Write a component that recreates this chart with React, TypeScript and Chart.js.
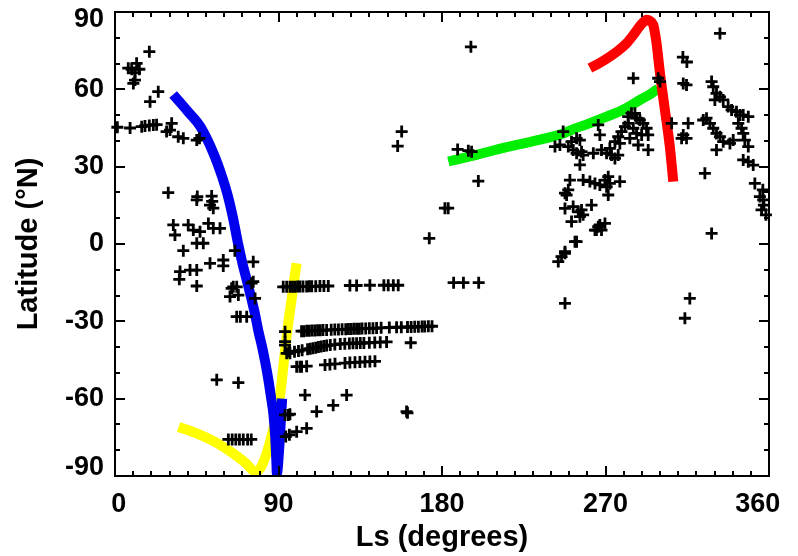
import React, { useEffect, useRef } from "react";
import { Chart, registerables } from "chart.js";

Chart.register(...registerables);

// ---------- axis definitions ----------
const xMin = 0;
const xMax = 360;
const xStep = 90;
const xMinorStep = 10;
const yMin = -90;
const yMax = 90;
const yStep = 30;
const yMinorStep = 10;
const xTitle = "Ls (degrees)";
const yTitle = "Latitude (°N)";

// ---------- observations [Ls, latitude] ----------
const obsNorthEarly: number[][] = [
  [18.9, 74.6], [7.3, 68.2], [9.2, 67.8], [11.9, 70.1], [13.4, 67.8], [11, 66.5], [10.1, 62.3], [11, 63.6],
  [23.8, 59.1], [19.3, 55.2], [1.3, 45.3], [8.3, 45], [14.7, 45.5], [16.5, 45.8], [18.9, 46], [21.1, 46.2],
  [22.9, 46.3], [31.2, 46.8], [30.3, 44.2], [28.4, 43.6], [34.8, 41.6], [37.6, 41], [45, 40.3], [46.5, 41],
];

const obsTropicsEarly: number[][] = [
  [29.3, 19.9], [45.3, 18.4], [53.2, 18.6], [45, 17.1], [52.3, 15.1], [54.1, 13.9], [53.5, 16.5],
  [32.1, 7.4], [33, 3.5], [40.3, 7.4], [43.1, 5.4], [46.8, 4.8], [51.4, 8], [54.1, 6.1], [57.8, 6.1],
  [45, 0.3], [48.6, 0.3], [37.6, -2.6], [52.3, -7.5], [59.6, -6.2], [59.6, -8.5], [66, -2.6], [76.1, -6.9],
  [35.8, -10.7], [35.4, -13.7], [41.3, -10.1], [45, -10.1], [45, -16.3],
  [64.2, -17.2], [67, -16.6], [63.3, -20.4], [67.9, -19.8], [76.1, -14.6], [77.1, -21.1], [65.1, -16.6], [75.2, -15.2],
  [67, -28.2], [72.5, -28.2], [69, -28.2], [56, -52.7], [67.9, -53.8],
  [62.4, -75.8], [64.5, -75.8], [66.5, -75.8], [68.5, -75.8], [70.6, -75.8], [73, -75.8], [75, -75.8],
];

const obsSouthWinter: number[][] = [
  [93.6, -66.3], [95.4, -66.3], [96.3, -66], [94, -74.7], [96, -74], [100, -72.8], [105.5, -71.5], [111, -65],
  [120.1, -62.6], [104.6, -58.6], [127.5, -58.6], [160.5, -65], [161, -65.5],
  [93.6, -34], [93.6, -39.2], [96.3, -42.4], [101.8, -47.6],
];

const obsRow16: number[][] = [
  [92.6, -16.6], [94.5, -16.6], [96.3, -16.6], [97.7, -16.6], [99.1, -16.6], [100.5, -16.5], [101.8, -16.5],
  [103.5, -16.5], [105.5, -16.5], [107, -16.4], [108.3, -16.4], [110.5, -16.4], [112.8, -16.3], [115, -16.3],
  [117.4, -16.3], [129.3, -16.1], [133, -16.1], [140.3, -16], [148, -16], [150.4, -16], [153.2, -16], [155.9, -16],
  [186.4, -15], [191.8, -15], [200.2, -15],
];

const obsRow33: number[][] = [
  [102.7, -33.8], [104, -33.8], [105.5, -33.7], [107, -33.7], [108.5, -33.6], [110, -33.6], [111.5, -33.5],
  [113, -33.5], [114.5, -33.4], [116.5, -33.4], [119, -33.3], [121, -33.2], [123, -33.2], [125, -33.1],
  [127, -33.1], [128.5, -33], [130, -33], [131.5, -32.9], [133, -32.9], [134.5, -32.9], [136, -32.8],
  [138, -32.8], [140, -32.7], [142, -32.7], [144, -32.6], [146.5, -32.5], [151, -32.4], [155, -32.3],
  [157.6, -32.3], [161, -32.2], [163, -32.2], [165, -32.1], [167, -32.1], [169, -32], [170.5, -32],
  [172.5, -31.9], [174.5, -31.9],
];

const obsRow40: number[][] = [
  [93.6, -37.9], [94.5, -42.4], [96, -41.7], [98.8, -41.8], [101, -41.5], [103, -41.2], [106, -40.8],
  [107.5, -40.6], [109, -40.4], [110.5, -40.2], [112, -40], [113.5, -39.8], [115, -39.6], [116.5, -39.4],
  [118.5, -39.2], [121, -39], [124, -38.8], [126.5, -38.7], [129, -38.6], [131, -38.5], [133, -38.5],
  [135, -38.4], [137, -38.4], [140, -38.3], [143, -38.2], [146, -38.1], [149.5, -38], [162.8, -38.3],
];

const obsRow46: number[][] = [
  [100, -47.6], [102.7, -47.6], [105.5, -47.4], [115.6, -46.9], [118.3, -46.7], [121.1, -46.5],
  [126.6, -46.2], [129.3, -46], [132.1, -45.9], [134.8, -45.8], [137.6, -45.7], [140.3, -45.6], [143.1, -45.5],
];

const obsMidYear: number[][] = [
  [173, 2.2], [181.6, 13.9], [183.4, 13.9], [200, 24.4], [188.6, 36.7], [194.5, 36.2], [196.3, 35.8],
  [157.8, 43.6], [155.6, 38], [195.9, 76.5],
];

const obsNorthLate: number[][] = [
  [285.3, 64.3], [299, 64.3], [300, 63], [312.8, 62.3], [314.6, 61.7], [333, 81.7], [312.6, 72.5], [314.8, 70.6],
  [328.4, 63], [329.3, 61], [331.1, 58.4], [330.2, 55.9], [333, 57.1], [334.8, 55.9], [337.5, 53.3], [339.4, 52],
  [342.1, 51.3], [344, 50], [345.8, 50], [348.6, 49.4], [325.6, 48.8], [323.8, 48.1], [327.5, 46.8], [329.3, 44.9],
  [331.1, 42.9], [333, 41.6], [334.8, 39.7], [338.5, 39], [340.3, 40.3], [331.1, 36.5], [343.1, 46.8], [344.9, 44.9],
  [345.8, 42.9], [346.7, 40.3], [348.6, 37.8], [345.8, 32.6], [348.6, 31.9], [351.3, 30.6], [324.7, 27.4],
  [352.2, 23.5], [355, 18.4], [356.8, 17.1], [355.9, 13.2], [328.4, 4.1], [306.4, 46.8], [315.5, 46.8],
  [312.8, 42.3], [314.6, 41], [311.9, 41], [316.4, -21.1], [313.7, -28.8], [356.6, 21], [357.2, 15.1], [358.3, 11.3],
];

const obsLateSummer: number[][] = [
  [247.7, -23], [244, -6.8], [245.8, -4.9], [247.7, -3.6], [254.1, 0.9], [265, 5.4], [267.8, 5.4],
  [246.7, 43.6], [242.2, 37.8], [244.9, 38.4], [249.5, 37.8], [252.2, 36.5], [251.3, 39.7], [254.1, 41],
  [255.9, 40.3], [256.8, 35.8], [254.1, 35.2], [257.7, 34.5], [255.9, 30.7], [266, 46.2], [266.9, 42.3],
  [263.3, 35.2], [267.8, 36.5], [270.6, 35.2], [273.3, 34.5], [275.2, 33.2], [277, 34.5], [272.4, 37.1],
  [275.2, 39.7], [277, 41.6], [278.8, 43.6], [280.7, 45.5], [282.5, 46.8], [282.5, 49.4], [284.3, 50.7],
  [286.2, 50.7], [287.1, 48.8], [288.9, 48.1], [290.8, 46.8], [292.6, 44.9], [293.5, 42.3], [289.9, 42.3],
  [285.3, 44.9], [287.1, 42.9], [283.4, 41], [277.9, 39], [288, 38.4], [293.5, 36.5],
  [250.4, 24.8], [257.7, 24.8], [261.4, 24.2], [264.2, 23.5], [266.9, 22.9], [269.7, 24.8], [271.5, 26.1],
  [272.4, 23.5], [277.9, 24.2], [270.6, 22.2], [249.5, 21], [248.6, 19], [247.7, 19.7], [271.5, 19],
  [247.7, 13.8], [252.2, 14.5], [256.8, 13.2], [257.7, 11.3], [262.3, 15.1], [255.9, 10.6], [251.3, 8.7],
  [255, 12.5], [264.2, 5.4], [266.9, 7.4], [269.7, 8], [266, 6.7], [253.2, 0.9], [247.7, -3],
];

// ---------- model curves ----------
const blueLs = [32, 40, 47, 54, 59, 62, 65, 67.5, 70, 72.5, 75, 77, 79, 81, 83, 84.5, 86, 87.2, 88.2, 88.8, 89.1, 90.5, 91.5, 92];
const blueLat = [58, 51.5, 45.5, 35.5, 26, 19, 10, 1, -7, -14, -21, -27, -34, -40, -47, -53, -60, -66, -75, -84, -89, -78, -66, -60];

const yellowLs = [35, 45, 55, 65, 72, 77, 80, 84, 88, 91, 93.5, 95.5, 97.5, 99, 100];
const yellowLat = [-71, -73.5, -76.8, -81.2, -85, -88.2, -87, -80, -69, -58, -42, -30, -20, -12, -7.5];

const greenLs = [183.5, 200, 215, 234, 247, 252, 260, 270.6, 280, 289, 295, 299];
const greenLat = [32, 34.8, 37.5, 40.5, 43, 44.5, 46.5, 49.4, 52.2, 55.9, 58.3, 60.3];

const redLs = [261.4, 267, 272.4, 277, 281.6, 285, 288, 290.5, 292.6, 294.5, 296.3, 297.3, 298.1, 300, 302.7, 305.4, 307.3];
const redLat = [68.2, 70.3, 72.7, 75, 77.9, 80.8, 83.7, 85.8, 87, 86.5, 85, 81.5, 77.9, 66.2, 52, 37.8, 24.2];

const FONT = "'Liberation Sans', Arial, Helvetica, sans-serif";

const toXY = (ls: number[], lat: number[]) => ls.map((v, i) => ({ x: v, y: lat[i] }));
const pairsToXY = (p: number[][]) => p.map(([a, b]) => ({ x: a, y: b }));

const framePlugin = {
  id: "idlFrame",
  afterDatasetsDraw(chart: any) {
    const { ctx, chartArea: a, scales } = chart;
    const xs = scales.x;
    const ys = scales.y;
    ctx.save();
    ctx.strokeStyle = "#000";
    ctx.lineWidth = 2;
    ctx.strokeRect(a.left, a.top, a.right - a.left, a.bottom - a.top);
    ctx.beginPath();
    for (let v = xMin; v <= xMax; v += xMinorStep) {
      const px = Math.round(xs.getPixelForValue(v));
      const len = v % xStep === 0 ? 10 : 5;
      ctx.moveTo(px, a.bottom);
      ctx.lineTo(px, a.bottom - len);
      ctx.moveTo(px, a.top);
      ctx.lineTo(px, a.top + len);
    }
    for (let v = yMin; v <= yMax; v += yMinorStep) {
      const py = Math.round(ys.getPixelForValue(v));
      const len = (v - yMin) % yStep === 0 ? 10 : 5;
      ctx.moveTo(a.left, py);
      ctx.lineTo(a.left + len, py);
      ctx.moveTo(a.right, py);
      ctx.lineTo(a.right - len, py);
    }
    ctx.stroke();
    ctx.restore();
  },
};

function curve(ls: number[], lat: number[], color: string, order: number) {
  return {
    data: toXY(ls, lat),
    showLine: true,
    borderColor: color,
    backgroundColor: color,
    borderWidth: 10,
    pointRadius: 0,
    borderCapStyle: "butt",
    borderJoinStyle: "round",
    cubicInterpolationMode: "monotone",
    fill: false,
    order,
  };
}

const noPad = (s: any) => {
  s.paddingTop = 0;
  s.paddingBottom = 0;
  s.paddingLeft = 0;
  s.paddingRight = 0;
};

export default function App() {
  const ref = useRef<HTMLCanvasElement>(null);

  useEffect(() => {
    document.body.style.margin = "0";
    const canvas = ref.current;
    if (!canvas) return;
    const allObs = [
      ...obsNorthEarly, ...obsTropicsEarly, ...obsSouthWinter, ...obsRow16, ...obsRow33,
      ...obsRow40, ...obsRow46, ...obsMidYear, ...obsNorthLate, ...obsLateSummer,
    ];
    const chart = new Chart(canvas, {
      type: "scatter",
      data: {
        datasets: [
          {
            data: pairsToXY(allObs),
            pointStyle: "cross",
            pointRadius: 6,
            pointBorderWidth: 2.8,
            borderColor: "#000",
            backgroundColor: "#000",
            clip: false,
            order: 0,
          } as any,
          curve(redLs, redLat, "#ff0000", 1) as any,
          curve(greenLs, greenLat, "#00ee00", 2) as any,
          curve(blueLs, blueLat, "#0000ee", 3) as any,
          curve(yellowLs, yellowLat, "#ffff00", 4) as any,
        ],
      },
      options: {
        animation: false,
        responsive: false,
        devicePixelRatio: 1,
        layout: { padding: { top: 12, right: 29, left: 0, bottom: 0 } },
        plugins: { legend: { display: false }, tooltip: { enabled: false } },
        scales: {
          x: {
            type: "linear",
            min: xMin,
            max: xMax,
            grid: { display: false, drawTicks: false },
            border: { display: false },
            ticks: {
              stepSize: xStep,
              color: "#000",
              padding: 12,
              font: { family: FONT, size: 27, weight: "bold" },
              callback: (v: any) => {
                const s = String(v);
                if (v === xMin) return "\u00a0" + s;
                if (v === xMax) return s + "\u00a0\u00a0\u00a0";
                return s;
              },
            },
            title: {
              display: true,
              text: xTitle,
              color: "#000",
              font: { family: FONT, size: 29, weight: "bold", lineHeight: 1 },
              padding: { top: 0, bottom: 4 },
            },
            afterFit: (s: any) => {
              s.height = 80;
              noPad(s);
            },
          },
          y: {
            type: "linear",
            min: yMin,
            max: yMax,
            grid: { display: false, drawTicks: false },
            border: { display: false },
            ticks: {
              stepSize: yStep,
              color: "#000",
              padding: 11,
              font: { family: FONT, size: 27, weight: "bold", lineHeight: "16px" },
              callback: (v: any) => {
                const s = String(v);
                if (v === yMax) return ["", s];
                if (v === yMin) return [s, ""];
                return s;
              },
            },
            title: {
              display: true,
              text: yTitle,
              color: "#000",
              font: { family: FONT, size: 29, weight: "bold", lineHeight: 1 },
              padding: { top: 14, bottom: 0 },
            },
            afterFit: (s: any) => {
              s.width = 115;
              noPad(s);
            },
          },
        },
      },
      plugins: [framePlugin],
    });
    return () => chart.destroy();
  }, []);

  return (
    <div style={{ width: 798, height: 556, background: "#fff" }}>
      <canvas ref={ref} width={798} height={556} style={{ display: "block" }} />
    </div>
  );
}
